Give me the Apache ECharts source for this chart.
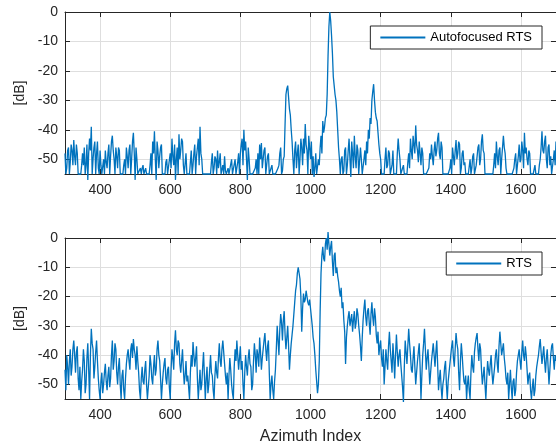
<!DOCTYPE html>
<html>
<head>
<meta charset="utf-8">
<script src="https://cdn.jsdelivr.net/npm/echarts@6/dist/echarts.min.js"></script>
<style>
html,body{margin:0;padding:0;background:#fff;}
#chart{width:556px;height:447px;}
</style>
</head>
<body>
<div id="chart"></div>
<script>
// Azimuth index sampling (x positions)
const azimuthStart = 300;
const azimuthStep = 2.5;

// Tick labels
const xTickLabels = [400, 600, 800, 1000, 1200, 1400, 1600];
const yTickLabels = [0, -10, -20, -30, -40, -50];

const seriesNames = ['Autofocused RTS', 'RTS'];

// Autofocused RTS [dB], azimuth 300..1700 step 2.5 (20 values per 50 indices)
const autofocusedRTS = [
 -48,-55,-53,-47,-46,-55,-51,-45,-47,-52,-43.5,-49,-52,-45,-48,-55,-55,-55,-55,-52,
 -48,-52,-46,-55,-52,-45,-57,-48,-43,-47,-39,-55,-50,-46,-44,-55,-48,-44,-53,-55,
 -47,-52,-55,-55,-50,-55,-47,-51,-53,-48,-45,-55,-49,-44,-42,-47,-50,-55,-46,-49,
 -53,-46,-47,-55,-55,-55,-55,-52,-50,-55,-46,-49,-53,-47,-45,-55,-50,-44,-41,-48,
 -57,-46,-50,-55,-55,-55,-53,-55,-53,-52,-55,-55,-53,-55,-55,-55,-55,-52,-48,-55,
 -44,-48,-40.5,-50,-57,-44,-47,-53,-49,-46,-45,-55,-55,-55,-55,-51,-50,-55,-55,-55,
 -48,-53,-43,-49,-52,-45,-57,-50,-46,-55,-41.5,-50,-47,-43,-44,-52,-55,-55,-48,-55,
 -55,-55,-55,-55,-47,-55,-52,-48,-45,-55,-49,-46,-43,-52,-39,-48,-50,-55,-55,-55,
 -55,-55,-55,-55,-55,-55,-55,-51,-48,-55,-53,-49,-50,-55,-47,-53,-51,-48,-55,-55,
 -52,-55,-49,-54,-55,-55,-53,-55,-55,-55,-50,-55,-55,-55,-50,-55,-55,-51,-48,-55,
 -48,-45,-43,-52,-40,-47,-44,-50,-57,-46,-50,-55,-55,-55,-55,-55,-55,-53,-50,-55,
 -48,-55,-45,-50,-44.5,-53,-50,-47,-46,-55,-52,-49,-48,-55,-55,-55,-52,-55,-55,-55,
 -55,-55,-55,-53,-52,-48,-46,-55,-54,-50,-49,-38,-28,-26,-25,-29,-33,-35,-40,-44,
 -50,-55,-47,-44,-53,-48,-45,-55,-50,-43,-46,-52,-43,-48,-38,-45,-47,-55,-42,-46,
 -50,-44,-55,-49,-56,-53,-48,-55,-55,-50,-52,-46,-42,-48,-37,-41,-39,-36,-35,-28,
 -15,-5,0,-3,-8,-14,-22,-25,-28,-30,-34,-40,-46,-50,-55,-50,-49,-55,-54,-47,
 -46,-55,-52,-47,-43,-50,-56,-44,-48,-53,-42,-49,-53,-45,-47,-55,-55,-46,-50,-55,
 -55,-50,-47,-52,-44,-48,-40,-43,-36,-38,-30,-27,-24.5,-30,-34,-36,-37,-41,-45,-48,
 -50,-55,-55,-55,-55,-50,-46,-53,-52,-47,-48,-55,-55,-52,-47,-55,-55,-55,-55,-48,
 -43,-47,-50,-55,-55,-55,-52,-55,-55,-55,-55,-51,-48,-53,-43,-47,-50,-42,-45,-48,
 -38.5,-45,-47,-51,-44,-48,-52,-46,-48,-55,-55,-55,-55,-55,-55,-53,-48,-50,-45,-49,
 -52,-47,-44,-49,-47,-43,-41,-48,-50,-44,-46,-55,-55,-55,-55,-55,-55,-55,-55,-53,
 -50,-55,-46,-49,-52,-47,-43.5,-50,-48,-44,-45,-55,-53,-48,-47,-52,-51,-55,-55,-55,
 -55,-55,-50,-55,-53,-49,-48,-55,-55,-52,-49,-46,-45,-52,-50,-44,-41.5,-47,-48,-55,
 -55,-55,-55,-55,-55,-55,-55,-55,-55,-52,-48,-53,-44,-49,-52,-47,-46,-55,-50,-46,
 -42,-46,-48,-53,-55,-55,-55,-55,-55,-55,-55,-55,-53,-50,-48,-55,-55,-49,-45,-51,
 -50,-44,-47,-53,-41,-48,-46,-50,-52,-47,-48,-55,-55,-55,-55,-55,-52,-55,-55,-55,
 -55,-52,-50,-46,-40.5,-47,-48,-44,-42,-50,-53,-46,-45,-52,-49,-55,-55,-50,-47,-52,
 -44
];

// RTS [dB], azimuth 300..1700 step 2.5 (20 values per 50 indices)
const rts = [
 -45,-52,-40,-44,-50,-42,-38,-47,-44,-38,-35,-40,-46,-39,-37,-48,-52,-44,-55,-49,
 -45,-38,-42,-53,-50,-41,-36,-45,-55,-40,-31,-36,-38,-48,-44,-39,-35,-42,-48,-52,
 -55,-49,-46,-53,-50,-46,-43,-49,-52,-47,-44,-51,-48,-40,-35,-45,-42,-36,-38,-46,
 -50,-44,-41,-50,-55,-47,-45,-52,-55,-48,-43,-40,-38,-42,-45,-38,-36,-41,-34.5,-38,
 -40,-45,-37,-42,-46,-52,-55,-48,-44,-49,-50,-45,-42,-50,-55,-51,-47,-40,-43,-48,
 -50,-44,-40,-47,-45,-38,-35,-40,-42,-48,-55,-50,-46,-43,-41,-48,-50,-45,-44,-51,
 -55,-45,-38,-41,-45,-36,-31.5,-38,-40,-35,-36,-43,-46,-42,-38,-45,-50,-47,-42,-49,
 -47,-51,-55,-46,-40,-44,-35.5,-40,-44,-41,-37,-48,-55,-50,-45,-52,-50,-44,-39,-47,
 -55,-48,-44,-53,-50,-45,-40,-46,-47,-52,-55,-47,-42,-46,-48,-41,-36,-42,-44,-38,
 -35,-39,-43,-47,-50,-46,-55,-47,-41,-45,-50,-53,-55,-44,-38,-42,-35,-40,-45,-41,
 -37,-45,-42,-50,-55,-46,-40,-44,-47,-41,-38,-43,-44,-52,-50,-42,-36,-40,-46,-38,
 -40,-44,-34,-39,-45,-41,-38,-35,-32.5,-38,-42,-37,-35,-46,-55,-50,-47,-52,-55,-49,
 -45,-38,-30,-35,-40,-31,-26,-29,-35,-28,-25,-33,-38,-34,-30,-37,-45,-40,-36,-33,
 -30,-26,-22,-18,-16,-12,-10,-12,-14,-20,-32,-24,-19,-22,-21,-18,-20,-22,-23,-21,
 -24,-27,-30,-34,-36,-40,-45,-49,-53,-50,-42,-25,-12,-6,-3,-7,-8,-2,0,-4,
 2,-2,-6,-3,-1,-8,-13,-6,-5,-12,-10,-13,-15,-18,-20,-17,-24,-22,-28,-32,
 -43,-34,-30,-27,-25,-30,-28,-26,-32,-28,-25,-31,-29,-24,-26,-30,-33,-37,-42,-34,
 -28,-24,-21,-27,-30,-25,-24,-29,-33,-26,-22,-27,-30,-24,-27,-33,-36,-32,-40,-37,
 -35,-41,-44,-38,-50,-44,-38,-42,-45,-37,-32,-38,-42,-46,-36,-41,-48,-40,-33,-39,
 -44,-40,-38,-43,-47,-51,-56,-44,-35,-39,-43,-37,-31,-36,-40,-45,-46,-41,-37,-44,
 -50,-46,-42,-39,-36,-44,-55,-47,-40,-36,-31,-38,-45,-41,-38,-44,-50,-46,-42,-39,
 -36,-40,-44,-39,-35,-43,-52,-48,-45,-51,-55,-50,-48,-44,-42,-50,-55,-49,-46,-43,
 -40,-37,-35,-41,-44,-38,-32.5,-36,-38,-46,-52,-42,-36,-40,-45,-49,-50,-47,-55,-50,
 -47,-52,-55,-46,-40,-44,-46,-39,-36,-34,-32.5,-38,-42,-36,-38,-45,-50,-47,-44,-50,
 -55,-48,-42,-45,-47,-43,-40,-46,-50,-47,-44,-40,-38,-43,-46,-37,-32,-36,-40,-38,
 -36,-41,-44,-48,-50,-46,-55,-50,-45,-51,-55,-49,-48,-54,-52,-46,-42,-40,-38,-42,
 -45,-39,-35,-40,-42,-37,-40,-45,-50,-47,-46,-52,-55,-51,-48,-54,-52,-47,-44,-42,
 -40,-37,-34.5,-39,-43,-40,-37,-42,-46,-41,-38,-44,-50,-45,-40,-37,-36,-41,-45,-40,
 -42
];

function pairs(vals) {
  return vals.map((v, i) => [azimuthStart + i * azimuthStep, v]);
}

const FONT = "'Liberation Sans', Arial, Helvetica, sans-serif";
const AX = '#262626';
const GRIDC = '#dedede';
const BLUE = '#0072BD';

function xAxes(gridIndex, withName) {
  const common = {
    type: 'value', gridIndex, min: 300, max: 1700, splitNumber: 7,
    axisLine: {show: true, onZero: false, lineStyle: {color: AX, width: 1}},
    axisTick: {show: true, inside: true, length: 5, lineStyle: {color: AX}},
  };
  return [
    Object.assign({}, common, {
      position: 'bottom',
      axisLabel: {show: true, color: AX, fontSize: 14, fontFamily: FONT, margin: 9,
        showMinLabel: false, showMaxLabel: false,
        formatter: v => String(v)},
      splitLine: {show: true, lineStyle: {color: GRIDC, width: 1}},
      name: withName ? 'Azimuth Index' : '',
      nameLocation: 'middle', nameGap: 30,
      nameTextStyle: {color: AX, fontSize: 16, fontFamily: FONT}
    }),
    Object.assign({}, common, {
      position: 'top',
      axisLabel: {show: false},
      splitLine: {show: false}
    })
  ];
}

function yAxes(gridIndex) {
  const common = {
    type: 'value', gridIndex, min: -55, max: 0, splitNumber: 5,
    axisLine: {show: true, onZero: false, lineStyle: {color: AX, width: 1}},
    axisTick: {show: true, inside: true, length: 5, lineStyle: {color: AX}},
  };
  return [
    Object.assign({}, common, {
      position: 'left',
      axisLabel: {show: true, color: AX, fontSize: 14, fontFamily: FONT, margin: 7,
        showMinLabel: false, formatter: v => String(v)},
      splitLine: {show: true, lineStyle: {color: GRIDC, width: 1}},
      name: '[dB]', nameLocation: 'middle', nameGap: 27,
      nameTextStyle: {color: AX, fontSize: 14, fontFamily: FONT}
    }),
    Object.assign({}, common, {
      position: 'right',
      axisLabel: {show: false},
      splitLine: {show: false}
    })
  ];
}

const legendCommon = {
  orient: 'vertical',
  backgroundColor: '#fff',
  borderColor: AX, borderWidth: 1,
  padding: [5, 10, 5, 10],
  itemWidth: 45, itemHeight: 2, itemGap: 5,
  icon: 'rect',
  textStyle: {color: '#000', fontSize: 13, fontFamily: FONT},
};

const chart = echarts.init(document.getElementById('chart'), null, {renderer: 'canvas'});
chart.setOption({
  animation: false,
  backgroundColor: '#fff',
  grid: [
    {left: 65, top: 12, width: 491, height: 162},
    {left: 65, top: 238, width: 491, height: 161}
  ],
  xAxis: xAxes(0, false).concat(xAxes(1, true)),
  yAxis: yAxes(0).concat(yAxes(1)),
  legend: [
    Object.assign({}, legendCommon, {data: [seriesNames[0]], right: 14, top: 26}),
    Object.assign({}, legendCommon, {data: [seriesNames[1]], right: 14, top: 252})
  ],
  series: [
    {name: seriesNames[0], type: 'line', xAxisIndex: 0, yAxisIndex: 0,
     data: pairs(autofocusedRTS), showSymbol: false, clip: false,
     lineStyle: {color: BLUE, width: 1.3}, itemStyle: {color: BLUE}},
    {name: seriesNames[1], type: 'line', xAxisIndex: 2, yAxisIndex: 2,
     data: pairs(rts), showSymbol: false, clip: false,
     lineStyle: {color: BLUE, width: 1.3}, itemStyle: {color: BLUE}}
  ]
});
</script>
</body>
</html>
